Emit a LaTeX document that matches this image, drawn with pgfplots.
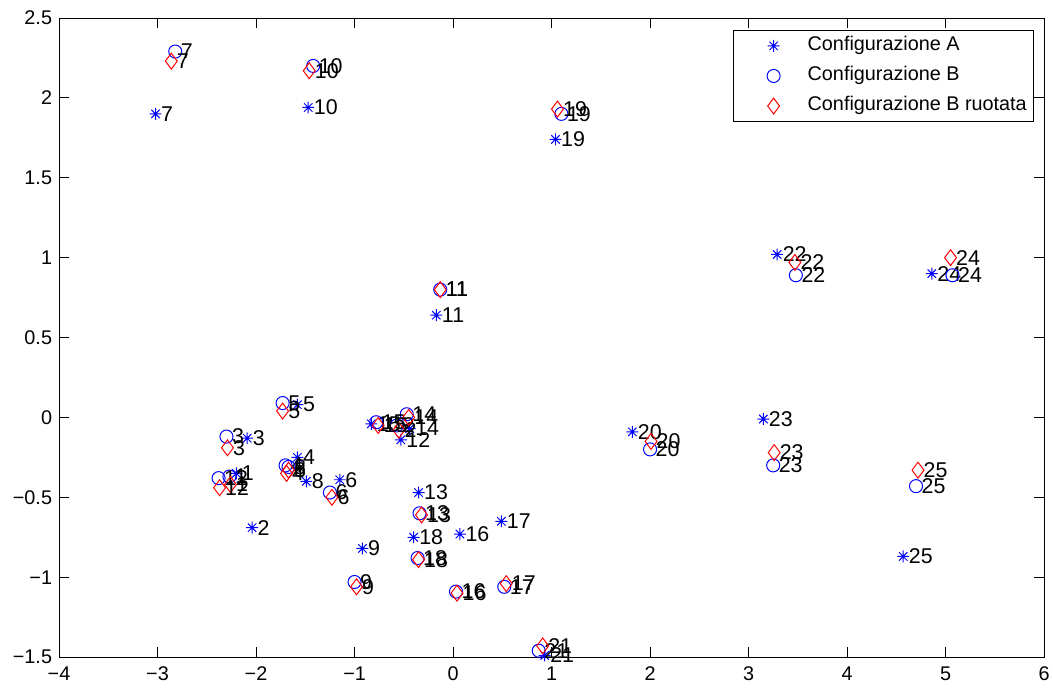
\documentclass[border=0pt]{standalone}
\usepackage{fontspec}
\setmainfont{Liberation Sans}
\usepackage{pgfplots}
\usepackage{pgfplotstable}
\pgfplotsset{compat=1.18}

\pgfdeclareplotmark{mlstar}{%
 \pgfpathmoveto{\pgfqpoint{-\pgfplotmarksize}{0pt}}\pgfpathlineto{\pgfqpoint{\pgfplotmarksize}{0pt}}%
 \pgfpathmoveto{\pgfqpoint{0pt}{-\pgfplotmarksize}}\pgfpathlineto{\pgfqpoint{0pt}{\pgfplotmarksize}}%
 \pgfpathmoveto{\pgfqpoint{-.707\pgfplotmarksize}{-.707\pgfplotmarksize}}\pgfpathlineto{\pgfqpoint{.707\pgfplotmarksize}{.707\pgfplotmarksize}}%
 \pgfpathmoveto{\pgfqpoint{-.707\pgfplotmarksize}{.707\pgfplotmarksize}}\pgfpathlineto{\pgfqpoint{.707\pgfplotmarksize}{-.707\pgfplotmarksize}}%
 \pgfusepathqstroke}

\pgfplotstableread{
x y lab
-2.20 -0.35 1
-2.04 -0.69 2
-2.09 -0.13 3
-1.58 -0.25 4
-1.58 0.08 5
-1.15 -0.39 6
-3.02 1.90 7
-1.49 -0.40 8
-0.92 -0.82 9
-1.47 1.94 10
-0.17 0.64 11
-0.53 -0.14 12
-0.35 -0.47 13
-0.44 -0.07 14
-0.83 -0.04 15
0.07 -0.73 16
0.49 -0.65 17
-0.40 -0.75 18
1.04 1.74 19
1.82 -0.09 20
0.93 -1.49 21
3.29 1.02 22
3.15 -0.01 23
4.86 0.90 24
4.57 -0.87 25
}\dataA

\pgfplotstableread{
x y lab
-2.27 -0.37 1
-0.57 -0.05 2
-2.30 -0.12 3
-1.70 -0.30 4
-1.73 0.09 5
-1.25 -0.47 6
-2.82 2.29 7
-1.67 -0.31 8
-1.00 -1.03 9
-1.42 2.20 10
-0.13 0.80 11
-2.38 -0.38 12
-0.34 -0.60 13
-0.47 0.02 14
-0.78 -0.03 15
0.03 -1.09 16
0.52 -1.06 17
-0.36 -0.88 18
1.10 1.90 19
2.00 -0.20 20
0.87 -1.46 21
3.48 0.89 22
3.25 -0.30 23
5.07 0.89 24
4.70 -0.43 25
}\dataB

\pgfplotstableread{
x y lab
-2.26 -0.42 1
-0.55 -0.08 2
-2.29 -0.19 3
-1.69 -0.35 4
-1.73 0.04 5
-1.23 -0.50 6
-2.86 2.23 7
-1.67 -0.33 8
-0.98 -1.06 9
-1.46 2.17 10
-0.13 0.80 11
-2.37 -0.44 12
-0.32 -0.61 13
-0.45 0.00 14
-0.76 -0.05 15
0.04 -1.10 16
0.54 -1.04 17
-0.35 -0.89 18
1.06 1.93 19
2.01 -0.15 20
0.91 -1.43 21
3.47 0.97 22
3.26 -0.22 23
5.05 1.00 24
4.72 -0.33 25
}\dataBr

\begin{document}
\begin{tikzpicture}
\begin{axis}[
  name=ax,
  scale only axis,
  width=497.4pt, height=322.7pt,
  xmin=-4, xmax=6, ymin=-1.5, ymax=2.5,
  xtick={-4,-3,-2,-1,0,1,2,3,4,5,6},
  xticklabels={−4,−3,−2,−1,0,1,2,3,4,5,6},
  ytick={-1.5,-1,-0.5,0,0.5,1,1.5,2,2.5},
  yticklabels={−1.5,−1,−0.5,0,0.5,1,1.5,2,2.5},
  tick align=inside,
  major tick length=5pt,
  tick style={black, line width=0.5pt},
  axis line style={line width=0.5pt},
  ticklabel style={font=\fontsize{10}{12}\selectfont},
  xticklabel style={yshift=-1.5pt},
  clip=false,
  nodes near coords,
  point meta=explicit symbolic,
  nodes near coords style={anchor=west, inner sep=0pt, xshift=2.6pt, black, font=\fontsize{10.8}{13}\selectfont},
  legend style={at={(1,1)}, anchor=north east, xshift=-5pt, yshift=-6pt,
    draw=black, line width=0.5pt, inner xsep=1.5pt, inner ysep=2.8pt,
    row sep=5.2pt,
    nodes={inner xsep=2pt, inner ysep=0pt, text height=7.5pt, text depth=2.5pt},
    font=\fontsize{10}{12}\selectfont},
  legend cell align=left,
  legend image code/.code={\path[draw=none,fill=none] (0pt,-3pt) rectangle (33.9pt,3pt); \draw[#1] plot coordinates {(18.7pt,0pt)};},
]
\addplot[only marks, draw=blue, mark=mlstar, mark size=3pt, mark options={line width=0.5pt}] table[x=x,y=y,meta=lab] {\dataA};
\addlegendentry{Configurazione A}
\addplot[only marks, draw=blue, mark=o, mark size=3.3pt, mark options={line width=0.5pt}] table[x=x,y=y,meta=lab] {\dataB};
\addlegendentry{Configurazione B}
\addplot[only marks, draw=red, mark=diamond, mark size=4pt, mark options={line width=0.5pt}] table[x=x,y=y,meta=lab] {\dataBr};
\addlegendentry{Configurazione B ruotata}
\end{axis}
\pgfresetboundingbox
\path ([xshift=-29.8pt,yshift=-18.2pt]ax.south west) rectangle ([xshift=4.5pt,yshift=9.1pt]ax.north east);
\end{tikzpicture}
\end{document}
